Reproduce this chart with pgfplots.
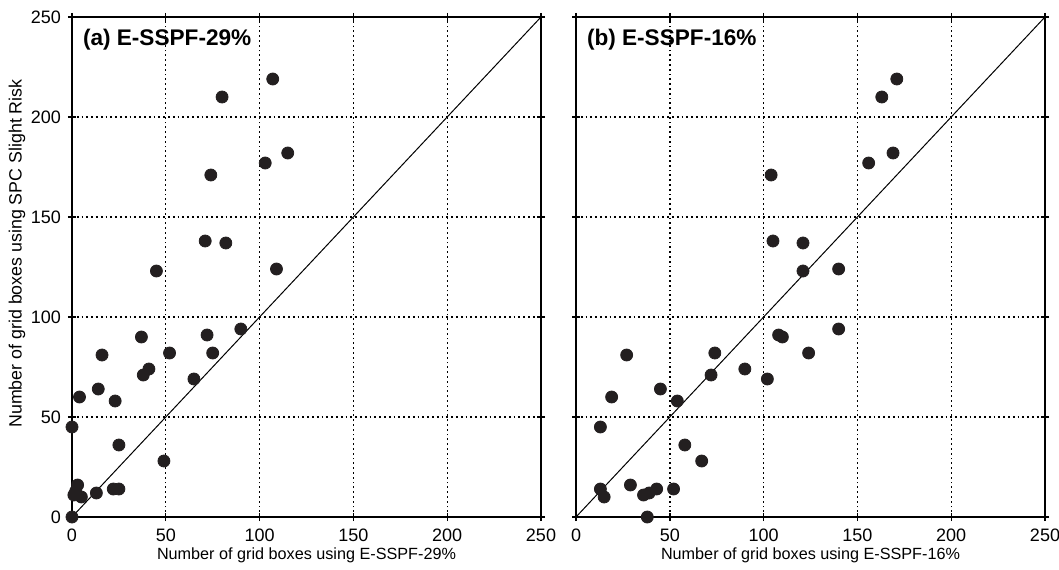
\documentclass[border=0pt]{standalone}
\usepackage{fontspec}
\setmainfont{Liberation Sans}
\usepackage{pgfplots}
\pgfplotsset{compat=1.18}

\definecolor{dotc}{HTML}{231F20}

\pgfplotsset{
  panel/.style={
    scale only axis, width=234.5pt, height=250pt,
    xmin=0, xmax=250, ymin=0, ymax=250,
    xtick={0,50,...,250}, ytick={0,50,...,250},
    grid=major, grid style={black, line width=0.7pt, dash pattern=on 0.9pt off 1.5pt},
    axis line style={line width=0.9pt},
    tick align=center, major tick length=4pt,
    tick style={black, line width=0.7pt},
    ticklabel style={font=\fontsize{9}{10}\selectfont},
    xticklabel style={yshift=-0.5pt},
    /pgf/number format/assume math mode=true,
    every axis x label/.style={at={(axis description cs:0.5,0)}, yshift=-21pt,
      anchor=base, inner sep=0pt, font=\fontsize{8.1}{9}\selectfont},
    every axis y label/.style={at={(axis description cs:0,0.527)}, xshift=-27.5pt,
      rotate=90, anchor=center, font=\fontsize{8.9}{10}\selectfont},
    clip=false,
  },
  minors/.style={
    scale only axis, width=234.5pt, height=250pt,
    xmin=0, xmax=250, ymin=0, ymax=250,
    hide y axis, axis x line*=bottom, x axis line style={draw=none},
    xtick=\empty, minor xtick={0,5,...,250},
    tick align=center, minor tick length=3pt,
    minor tick style={black, line width=0.5pt},
  },
  dots/.style={only marks, mark=*, mark size=3pt, color=dotc},
  diag/.style={black, line width=0.5pt, mark=none},
}

\begin{document}
\begin{tikzpicture}

% (a) E-SSPF-29%
\begin{axis}[panel, at={(0,0)},
  xlabel={Number of grid boxes using E-SSPF-29\%},
  ylabel={Number of grid boxes using SPC Slight Risk}]
\addplot[diag] coordinates {(0,0) (250,250)};
\addplot[dots] coordinates {
 (107,219) (80,210) (115,182) (103,177) (74,171) (71,138) (82,137) (45,123)
 (109,124) (90,94) (37,90) (72,91) (16,81) (52,82) (75,82) (41,74)
 (38,71) (65,69) (14,64) (4,60) (23,58) (0,45) (25,36) (49,28)
 (3,16) (2,13) (1,11) (5,10) (13,12) (22,14) (25,14) (0,0)};
\node[anchor=base west, font=\bfseries\fontsize{11.3}{12}\selectfont, inner sep=0pt]
  at (rel axis cs:0,1) [xshift=5.3pt, yshift=-14pt] {(a) E-SSPF-29\%};
\end{axis}
\begin{axis}[minors, at={(0,0)}]
\end{axis}

% (b) E-SSPF-16%
\begin{axis}[panel, at={(252pt,0)}, yticklabels={},
  xlabel={Number of grid boxes using E-SSPF-16\%}]
\addplot[diag] coordinates {(0,0) (250,250)};
\addplot[dots] coordinates {
 (171,219) (163,210) (169,182) (156,177) (140,124) (104,171) (105,138) (121,137)
 (121,123) (108,91) (110,90) (124,82) (140,94) (74,82) (27,81) (90,74)
 (72,71) (102,69) (45,64) (19,60) (54,58) (13,45) (58,36) (67,28)
 (29,16) (13,14) (43,14) (52,14) (36,11) (39,12) (15,10) (38,0)};
\node[anchor=base west, font=\bfseries\fontsize{11.3}{12}\selectfont, inner sep=0pt]
  at (rel axis cs:0,1) [xshift=5.3pt, yshift=-14pt] {(b) E-SSPF-16\%};
\end{axis}
\begin{axis}[minors, at={(252pt,0)}]
\end{axis}

\pgfresetboundingbox
\path[use as bounding box] (-36pt,-26pt) rectangle (493.5pt,258.5pt);
\end{tikzpicture}
\end{document}
